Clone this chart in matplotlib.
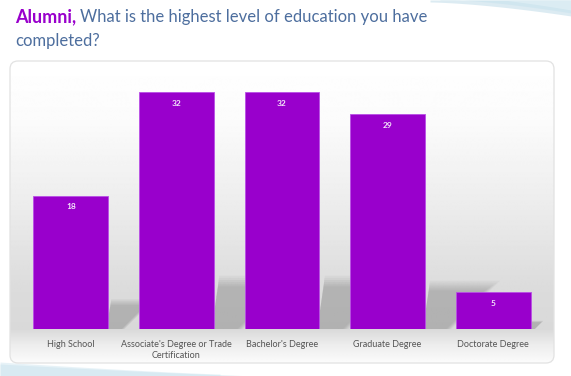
import numpy as np
import matplotlib
matplotlib.use("Agg")
import matplotlib.pyplot as plt
from matplotlib.patches import FancyBboxPatch, Polygon

categories = ["High School", "Associate's Degree or Trade\nCertification",
              "Bachelor's Degree", "Graduate Degree", "Doctorate Degree"]
values = [18, 32, 32, 29, 5]

W, H = 571, 376
fig = plt.figure(figsize=(W / 100, H / 100), dpi=100)
fig.patch.set_facecolor("white")

# background layer in pixel coordinates
bg = fig.add_axes([0, 0, 1, 1])
bg.set_xlim(0, W)
bg.set_ylim(H, 0)
bg.axis("off")

# decorative blue swooshes
for k, (a, c) in enumerate([(0.35, "#9cc8dc"), (0.5, "#c6e2ee"), (0.6, "#e3f1f7")]):
    xs = np.linspace(430 + k * 10, W, 50)
    top = np.zeros_like(xs)
    bot = 2 + 14 * ((xs - xs[0]) / (W - xs[0])) ** 1.5 - k * 3
    bg.fill_between(xs, top, bot, color=c, alpha=a, lw=0)
for k, (a, c) in enumerate([(0.35, "#a9cfe0"), (0.5, "#d0e7f1")]):
    xs = np.linspace(0, 260 - k * 40, 50)
    t = 1 - xs / xs[-1]
    bg.fill_between(xs, H - 12 * t ** 1.2 - k * 2, H, color=c, alpha=a, lw=0)

# panel with vertical gradient
px0, py0, px1, py1 = 10, 61, 554, 363
stops = [(61, 1.00), (120, 0.985), (200, 0.93), (290, 0.86), (329, 0.85),
         (345, 0.93), (363, 0.985)]
ys = np.arange(py0, py1 + 1)
vals = np.interp(ys, [s[0] for s in stops], [s[1] for s in stops])
img = np.repeat(vals[:, None], 2, axis=1)
im = bg.imshow(img, extent=(px0, px1, py1, py0), cmap="gray", vmin=0, vmax=1,
               aspect="auto", interpolation="bilinear", zorder=1)
panel = FancyBboxPatch((px0, py0), px1 - px0, py1 - py0,
                       boxstyle="round,pad=0,rounding_size=8",
                       fc="none", ec="#e2e2e2", lw=0.9, zorder=2)
bg.add_patch(panel)
im.set_clip_path(panel)

# title
fam = ["Lato", "DejaVu Sans"]
t1 = bg.text(15, 22, "Alumni,", color="#9900cc", fontsize=13, fontweight="bold",
             family=fam, va="baseline", ha="left", zorder=3)
fig.canvas.draw()
bb = t1.get_window_extent()
bg.text(bb.x1 + 4, 22, "What is the highest level of education you have",
        color="#4d6e9e", fontsize=12, family=fam, va="baseline", ha="left", zorder=3)
bg.text(15, 46, "completed?", color="#4d6e9e", fontsize=12, family=fam,
        va="baseline", ha="left", zorder=3)

# chart axes
ax = fig.add_axes([18 / W, 1 - 329 / H, (546 - 18) / W, 266.4 / H])
ax.patch.set_alpha(0)
x = np.arange(len(categories))
bw = 0.71
ax.set_xlim(-0.5, len(categories) - 0.5)
ax.set_ylim(0, 36)

# soft shadows (pixel scale conversions)
pxx = 105.6   # px per category
pxy = 7.4     # px per unit
for xi, v in zip(x, values):
    xr = xi + bw / 2
    for f in np.linspace(1.0, 0.8, 6):
        s = 0.225 * v * f
        spx = s * pxy
        pts = [(xr - 0.02, 0), (xr + 0.55 * spx / pxx, 0),
               (xr + 1.55 * spx / pxx, s), (xr + 0.1 * spx / pxx, s)]
        ax.add_patch(Polygon(pts, closed=True, fc="black", alpha=0.03, lw=0, zorder=1))

ax.bar(x, values, width=bw, color="#9900cc", edgecolor="#b94fe6", linewidth=0.6, zorder=3)
for xi, v in zip(x, values):
    ax.text(xi, v - 11 / pxy, str(v), ha="center", va="center", color="#f4e6fa",
            fontsize=6, fontweight="bold", family=fam, zorder=4)

ax.set_xticks(x)
ax.set_xticklabels(categories, fontsize=6.5, color="#555555", family=fam, linespacing=1.3)
ax.tick_params(axis="x", length=0, pad=8)
ax.set_yticks([])
for sp in ax.spines.values():
    sp.set_visible(False)

fig.savefig("out.png", dpi=100, facecolor="white")
